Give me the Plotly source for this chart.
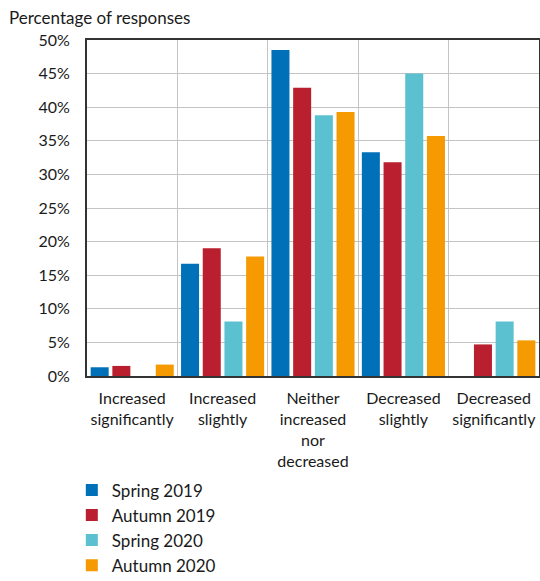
import plotly.graph_objects as go

categories = ["Increased<br>significantly", "Increased<br>slightly",
              "Neither<br>increased<br>nor<br>decreased", "Decreased<br>slightly",
              "Decreased<br>significantly"]
spring_2019 = [1.3, 16.7, 48.5, 33.3, 0.0]
autumn_2019 = [1.5, 19.0, 42.9, 31.8, 4.7]
spring_2020 = [0.0, 8.1, 38.8, 45.0, 8.1]
autumn_2020 = [1.7, 17.8, 39.3, 35.7, 5.3]
series_names = ["Spring 2019", "Autumn 2019", "Spring 2020", "Autumn 2020"]
colors = ["#0070b8", "#b91f2e", "#5bc0cf", "#f59a00"]
y_ticks = [0, 5, 10, 15, 20, 25, 30, 35, 40, 45, 50]

fig = go.Figure()
for name, vals, col in zip(series_names, [spring_2019, autumn_2019, spring_2020, autumn_2020], colors):
    fig.add_trace(go.Bar(x=categories, y=vals, name=name, marker_color=col,
                         marker_line_width=0))

font = "Lato, 'Open Sans', sans-serif"
fig.update_layout(
    width=540, height=581,
    margin=dict(l=87, r=1, t=40, b=205, autoexpand=False),
    paper_bgcolor="white", plot_bgcolor="white",
    barmode="group", bargap=0.04, bargroupgap=0.17,
    font=dict(family=font, size=16, color="#1a1a1a"),
    showlegend=True,
    legend=dict(orientation="v", xref="container", yref="container",
                x=0.133, y=0.187, xanchor="left", yanchor="top",
                font=dict(size=17), tracegroupgap=0, itemwidth=30),
    annotations=[dict(text="Percentage of responses", xref="paper", yref="paper",
                      x=-0.177, y=1.0, xanchor="left", yanchor="bottom", yshift=10,
                      showarrow=False, font=dict(size=17))],
)
fig.update_xaxes(type="category", tickson="boundaries", showgrid=True, gridcolor="#c4c4c4",
                 gridwidth=1, showline=True, linecolor="#333333", linewidth=2, mirror=True,
                 ticks="", tickangle=0, tickfont=dict(size=16), ticklabelstandoff=7,
                 automargin=False)
fig.update_yaxes(range=[0, 50], tickvals=y_ticks, ticktext=[f"{v}%" for v in y_ticks],
                 showgrid=True, gridcolor="#c4c4c4", gridwidth=1, showline=True,
                 linecolor="#333333", linewidth=2, mirror=True, ticks="",
                 tickfont=dict(size=16), ticklabelstandoff=12, zeroline=False,
                 automargin=False)

fig.write_html("out.html", config={"displayModeBar": False},
               post_script="document.body.style.margin='0';document.body.style.overflow='hidden';")
